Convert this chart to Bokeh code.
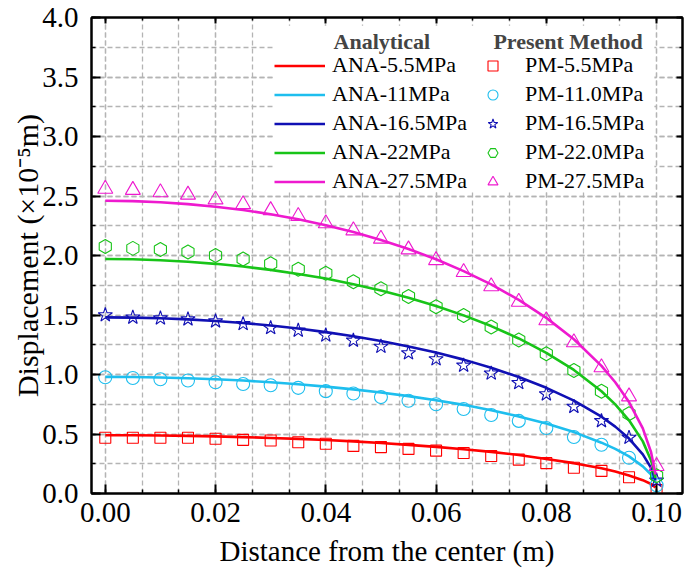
from bokeh.plotting import figure
from bokeh.models import (Range1d, FixedTicker, LinearAxis, Legend, LegendItem,
                          Label, BoxAnnotation, PrintfTickFormatter)
from bokeh.embed import file_html
from bokeh.resources import INLINE
import numpy as np

# ---------------- data ----------------
x_ana = [0.0, 0.005, 0.01, 0.015, 0.02, 0.025, 0.03, 0.035, 0.04, 0.045, 0.05, 0.055,
         0.06, 0.065, 0.07, 0.075, 0.08, 0.085, 0.09, 0.0925, 0.095, 0.0975, 0.099, 0.0998]
ana_5_5 = [0.490, 0.489, 0.488, 0.484, 0.480, 0.474, 0.467, 0.459, 0.449, 0.438, 0.424, 0.409,
           0.392, 0.372, 0.350, 0.324, 0.290, 0.255, 0.212, 0.184, 0.152, 0.112, 0.080, 0.050]
ana_11 = [0.980, 0.979, 0.975, 0.969, 0.960, 0.949, 0.935, 0.918, 0.898, 0.875, 0.849, 0.818,
          0.784, 0.745, 0.700, 0.648, 0.588, 0.516, 0.427, 0.375, 0.312, 0.228, 0.160, 0.090]
ana_16_5 = [1.480, 1.478, 1.473, 1.463, 1.450, 1.433, 1.412, 1.386, 1.356, 1.322, 1.282, 1.236,
            1.184, 1.125, 1.057, 0.979, 0.888, 0.780, 0.645, 0.562, 0.462, 0.329, 0.215, 0.110]
ana_22 = [1.970, 1.968, 1.960, 1.948, 1.930, 1.907, 1.879, 1.845, 1.806, 1.759, 1.706, 1.645,
          1.576, 1.497, 1.407, 1.303, 1.182, 1.038, 0.859, 0.749, 0.615, 0.438, 0.278, 0.130]
ana_27_5 = [2.460, 2.457, 2.448, 2.432, 2.410, 2.382, 2.347, 2.304, 2.255, 2.197, 2.130, 2.055,
            1.968, 1.869, 1.757, 1.627, 1.476, 1.296, 1.072, 0.935, 0.768, 0.547, 0.347, 0.160]

x_pm = [0.0, 0.005, 0.01, 0.015, 0.02, 0.025, 0.03, 0.035, 0.04, 0.045, 0.05,
        0.055, 0.06, 0.065, 0.07, 0.075, 0.08, 0.085, 0.09, 0.095, 0.1]
pm_5_5 = [0.468, 0.468, 0.468, 0.468, 0.460, 0.451, 0.445, 0.431, 0.418, 0.400, 0.390,
          0.375, 0.360, 0.340, 0.315, 0.285, 0.255, 0.216, 0.190, 0.137, 0.030]
pm_11 = [0.977, 0.970, 0.960, 0.950, 0.935, 0.920, 0.910, 0.888, 0.860, 0.840, 0.810,
         0.780, 0.750, 0.710, 0.660, 0.610, 0.550, 0.475, 0.410, 0.300, 0.070]
pm_16_5 = [1.500, 1.480, 1.473, 1.465, 1.448, 1.426, 1.392, 1.370, 1.330, 1.286, 1.235,
           1.180, 1.130, 1.076, 1.010, 0.930, 0.835, 0.730, 0.610, 0.470, 0.110]
pm_22 = [2.075, 2.060, 2.050, 2.030, 2.000, 1.970, 1.930, 1.885, 1.850, 1.780, 1.720,
         1.655, 1.570, 1.495, 1.400, 1.290, 1.174, 1.034, 0.860, 0.670, 0.150]
pm_27_5 = [2.560, 2.550, 2.530, 2.510, 2.470, 2.430, 2.380, 2.330, 2.270, 2.210, 2.140,
           2.050, 1.960, 1.860, 1.740, 1.610, 1.454, 1.270, 1.060, 0.815, 0.230]

ana_labels = ["ANA-5.5MPa", "ANA-11MPa", "ANA-16.5MPa", "ANA-22MPa", "ANA-27.5MPa"]
pm_labels = ["PM-5.5MPa", "PM-11.0MPa", "PM-16.5MPa", "PM-22.0MPa", "PM-27.5MPa"]
x_ticks = [0.0, 0.02, 0.04, 0.06, 0.08, 0.10]
y_ticks = [0.0, 0.5, 1.0, 1.5, 2.0, 2.5, 3.0, 3.5, 4.0]

# ---------------- styles ----------------
FONT = "Liberation Serif"
colors = ["#FF0000", "#1EBEEE", "#1010B4", "#18C418", "#EE1ACF"]
markers = ["square", "circle", "star", "hex", "triangle"]
msizes = [11, 13, 15, 14, 15]
mangles = [0, 0, 0, np.pi / 2, 0]
ana_all = [ana_5_5, ana_11, ana_16_5, ana_22, ana_27_5]
pm_all = [pm_5_5, pm_11, pm_16_5, pm_22, pm_27_5]

x_minor = [i * 0.02 / 3 for i in range(16)]
y_minor = [i * 0.25 for i in range(17)]

p = figure(width=685, height=580, output_backend="svg", toolbar_location=None,
           x_range=Range1d(-0.0025, 0.1047), y_range=Range1d(0, 4),
           min_border_left=91, min_border_right=3, min_border_top=17, min_border_bottom=87)
p.background_fill_color = "white"
p.border_fill_color = "white"
p.outline_line_color = "black"
p.outline_line_width = 2

xt = FixedTicker(ticks=x_ticks, minor_ticks=x_minor)
yt = FixedTicker(ticks=y_ticks, minor_ticks=y_minor)

for ax, tk, fmt in ((p.xaxis[0], xt, "%.2f"), (p.yaxis[0], yt, "%.1f")):
    ax.ticker = tk
    ax.formatter = PrintfTickFormatter(format=fmt)
    ax.major_label_text_font = FONT
    ax.major_label_text_font_size = "29px"
    ax.major_label_text_color = "black"
    ax.axis_label_text_font = FONT
    ax.axis_label_text_font_size = "29px"
    ax.axis_label_text_font_style = "normal"
    ax.axis_label_text_color = "black"
    ax.axis_line_width = 2
    ax.axis_line_color = "black"
    ax.major_tick_in = 9
    ax.major_tick_out = 0
    ax.minor_tick_in = 4
    ax.minor_tick_out = 0
    ax.major_tick_line_width = 2
    ax.minor_tick_line_width = 1.5
    ax.major_tick_line_color = "black"
    ax.minor_tick_line_color = "black"

p.xaxis.axis_label = "Distance from the center (m)"
p.yaxis.axis_label = "Displacement (×10⁻⁵m)"
p.yaxis.axis_label_text_font_size = "30px"
p.xaxis.major_label_standoff = 9
p.xaxis.axis_label_standoff = 10
p.yaxis.major_label_standoff = 13
p.yaxis.axis_label_standoff = -5

for tk, side in ((xt, "above"), (yt, "right")):
    ax = LinearAxis(ticker=tk, major_label_text_font_size="1px",
                    major_label_overrides={t: "" for t in tk.ticks},
                    major_label_standoff=0, major_tick_in=6, major_tick_out=0,
                    minor_tick_in=3, minor_tick_out=0, axis_line_width=2,
                    major_tick_line_width=2, minor_tick_line_width=1.5)
    p.add_layout(ax, side)

for g in (p.xgrid[0], p.ygrid[0]):
    g.grid_line_color = "#B4B4B4"
    g.grid_line_dash = "5 3"
    g.grid_line_width = 1.3
    g.minor_grid_line_color = "#B4B4B4"
    g.minor_grid_line_dash = "5 3"
    g.minor_grid_line_width = 1.3
p.xgrid[0].ticker = xt
p.ygrid[0].ticker = yt

line_items = []
pm_items = []
for i in range(5):
    r_line = p.line(x_ana, ana_all[i], line_color=colors[i], line_width=2.6)
    r_pm = p.scatter(x_pm, pm_all[i], marker=markers[i], size=msizes[i], angle=mangles[i],
                     fill_color=None, line_color=colors[i], line_width=1.1)
    line_items.append(LegendItem(label=ana_labels[i], renderers=[r_line]))
    pm_items.append(LegendItem(label=pm_labels[i], renderers=[r_pm]))

# white box behind legend
p.add_layout(BoxAnnotation(left=0.0305, right=0.0996, bottom=2.54, top=3.93,
                           fill_color="white", fill_alpha=1.0, line_color=None))

common = dict(padding=0, margin=0, spacing=3, glyph_height=25,
              label_text_font=FONT, label_text_font_size="22px", label_text_color="black",
              background_fill_alpha=0, border_line_color=None, label_height=20)
leg1 = Legend(items=line_items, location=(183, 299), glyph_width=51, label_standoff=7, **common)
leg2 = Legend(items=pm_items, location=(389, 299), glyph_width=25, label_standoff=20, **common)
p.add_layout(leg1)
p.add_layout(leg2)

p.add_layout(Label(x=0.0414, y=3.80, text="Analytical", text_font=FONT, text_font_size="22px",
                   text_font_style="bold", text_baseline="middle", text_align="left"))
p.add_layout(Label(x=0.0704, y=3.80, text="Present Method", text_font=FONT, text_font_size="22px",
                   text_font_style="bold", text_baseline="middle", text_align="left"))

open("out.html", "w").write(file_html(p, INLINE))
